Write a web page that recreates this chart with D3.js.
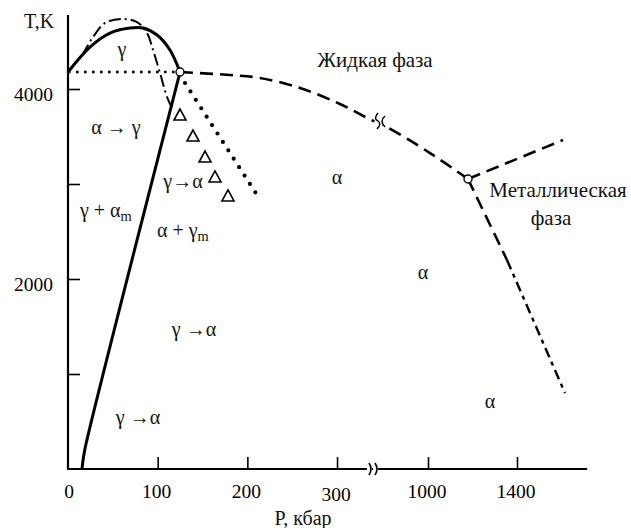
<!DOCTYPE html>
<html>
<head>
<meta charset="utf-8">
<script src="https://cdn.jsdelivr.net/npm/d3@7"></script>
<style>
  body { margin: 0; background: #fff; }
  svg text { font-family: "Liberation Serif", "Times New Roman", "DejaVu Serif", serif; }
</style>
</head>
<body>
<div id="chart"></div>
<script>
// axis ticks
const xTicks = [100, 200, 300, 1000, 1400];
const xTickLabels = [0, 100, 200, 300, 1000, 1400];
const yTicks = [1000, 2000, 3000, 4000];
const yTickLabels = [2000, 4000];

// phase lines, [P kbar, T K]
const graphiteDiamond = [[15.6, 0], [17.2, 120], [20, 260], [125, 4180]];
const graphiteMelt = [[0, 4179], [24.5, 4442], [46.8, 4589], [69.1, 4642], [83.6, 4642], [99.3, 4568], [113.7, 4411], [124.9, 4179]];
const dashDotMelt = [[0, 4179], [15.6, 4358], [27.9, 4547], [41.3, 4695], [60.2, 4737], [76.9, 4705], [88.1, 4589], [94.8, 4411], [102.6, 4168], [110.4, 3916], [116, 3800]];
const dottedLevel = [[0, 4179], [124, 4179]];
const heavyDots = [[130.5, 4063], [210.8, 2884]];
const diamondMelt = [[124.9, 4179], [180.7, 4147], [214.1, 4116], [258.7, 4011], [303.3, 3842], [338.2, 3674], [806.7, 3611], [1009, 3326], [1179.8, 3053]];
const metalUp = [[1179.8, 3053], [1606.7, 3463]];
const metalDownA = [[1179.8, 3053], [1355, 2200]];
const metalDownB = [[1355, 2200], [1615.7, 800]];
const triplePoints = [[124.9, 4179], [1179.8, 3053]];
const triangles = [[124.9, 3726], [139.4, 3505], [152.8, 3284], [163.9, 3074], [178.4, 2874]];

const svg_width = 631, svg_height = 528;
const serif = '"Liberation Serif", "Times New Roman", "DejaVu Serif", serif';

const svg = d3.select('#chart').append('svg')
  .attr('width', svg_width).attr('height', svg_height);

// broken pressure axis: 0..340 then 760..
const x = d3.scaleLinear().domain([0, 340, 760, 1800]).range([68, 372.9, 374.6, 606]);
const y = d3.scaleLinear().domain([0, 5000]).range([469, -6]);

const line = d3.line().x(d => x(d[0])).y(d => y(d[1]));
const curve = d3.line().x(d => x(d[0])).y(d => y(d[1])).curve(d3.curveCatmullRom.alpha(0.5));

//axes
svg.append('line').attr('x1', x(0)).attr('x2', x(0)).attr('y1', y(0)).attr('y2', y(4779))
  .attr('stroke', '#000').attr('stroke-width', 2.2);
svg.append('line').attr('x1', x(0) - 1).attr('x2', x(1715)).attr('y1', y(0)).attr('y2', y(0))
  .attr('stroke', '#000').attr('stroke-width', 2.2);

const xAxis = d3.axisBottom(x).tickValues(xTicks).tickSizeInner(-12).tickSizeOuter(0).tickFormat('');
svg.append('g').attr('transform', `translate(0,${y(0)})`).call(xAxis)
  .call(g => g.select('.domain').remove())
  .call(g => g.selectAll('line').attr('stroke-width', 1.6));

const yAxis = d3.axisLeft(y).tickValues(yTicks).tickSizeInner(-12).tickSizeOuter(0).tickFormat('');
svg.append('g').attr('transform', `translate(${x(0)},0)`).call(yAxis)
  .call(g => g.select('.domain').remove())
  .call(g => g.selectAll('line').attr('stroke-width', 1.6));

svg.selectAll('.xlab').data(xTickLabels).join('text')
  .attr('class', 'xlab')
  .attr('x', d => x(d) + (d == 0 ? 1 : -1))
  .attr('y', d => d == 300 ? 501 : 498)
  .attr('font-family', serif)
  .attr('text-anchor', 'middle').attr('font-size', 19.5).text(d => d);

svg.selectAll('.ylab').data(yTickLabels).join('text')
  .attr('class', 'ylab')
  .attr('x', 53).attr('y', d => y(d) + 12)
  .attr('font-family', serif)
  .attr('text-anchor', 'end').attr('font-size', 19.5).text(d => d);

// axis break marks
[0, 6].forEach(dx => {
  const bx = 369 + dx;
  svg.append('rect').attr('x', bx - 2).attr('y', y(0) - 3).attr('width', 5).attr('height', 6).attr('fill', '#fff');
  svg.append('path').attr('d', `M${bx},${y(0) - 6} Q${bx + 4},${y(0)} ${bx},${y(0) + 6}`)
    .attr('fill', 'none').attr('stroke', '#000').attr('stroke-width', 1.6);
});

// phase lines
svg.append('path').attr('d', line(dottedLevel)).attr('fill', 'none')
  .attr('stroke', '#000').attr('stroke-width', 2.6).attr('stroke-dasharray', '2.6,5.4');
svg.append('path').attr('d', curve(dashDotMelt)).attr('fill', 'none')
  .attr('stroke', '#000').attr('stroke-width', 2).attr('stroke-dasharray', '12,4,2,4');
svg.append('path').attr('d', curve(graphiteMelt)).attr('fill', 'none')
  .attr('stroke', '#000').attr('stroke-width', 3);
svg.append('path').attr('d', curve(graphiteDiamond)).attr('fill', 'none')
  .attr('stroke', '#000').attr('stroke-width', 3);
svg.append('path').attr('d', line(heavyDots)).attr('fill', 'none')
  .attr('stroke', '#000').attr('stroke-width', 4.2).attr('stroke-linecap', 'round')
  .attr('stroke-dasharray', '0,10');
svg.append('path').attr('d', curve(diamondMelt)).attr('fill', 'none')
  .attr('stroke', '#000').attr('stroke-width', 2.6).attr('stroke-dasharray', '13,7');
svg.append('path').attr('d', line(metalUp)).attr('fill', 'none')
  .attr('stroke', '#000').attr('stroke-width', 2.6).attr('stroke-dasharray', '13,7');
svg.append('path').attr('d', line(metalDownA)).attr('fill', 'none')
  .attr('stroke', '#000').attr('stroke-width', 2.6).attr('stroke-dasharray', '13,7');
svg.append('path').attr('d', line(metalDownB)).attr('fill', 'none')
  .attr('stroke', '#000').attr('stroke-width', 2.4).attr('stroke-dasharray', '10,5,4,5');

// break on the liquid line
svg.append('rect').attr('x', 375).attr('y', 116).attr('width', 9).attr('height', 10)
  .attr('fill', '#fff').attr('transform', 'rotate(25,379,121)');
svg.append('path').attr('d', 'M378,113 Q373,119 378,121 Q382,124 377,129')
  .attr('fill', 'none').attr('stroke', '#000').attr('stroke-width', 1.5);
svg.append('path').attr('d', 'M385,116 Q379,121 385,127')
  .attr('fill', 'none').attr('stroke', '#000').attr('stroke-width', 1.5);

// triangles
svg.selectAll('.tri').data(triangles).join('path')
  .attr('class', 'tri')
  .attr('d', d => {
    const cx = x(d[0]), cy = y(d[1]);
    return `M${cx},${cy - 6}L${cx + 6},${cy + 5}L${cx - 6},${cy + 5}Z`;
  })
  .attr('fill', '#fff').attr('stroke', '#000').attr('stroke-width', 1.6);

// triple points
svg.selectAll('.tp').data(triplePoints).join('circle')
  .attr('class', 'tp')
  .attr('cx', d => x(d[0])).attr('cy', d => y(d[1])).attr('r', 4)
  .attr('fill', '#fff').attr('stroke', '#000').attr('stroke-width', 1.4);

// texts
function label(txt, px, py, size, anchor, sub) {
  const t = svg.append('text').attr('x', px).attr('y', py)
    .attr('font-family', serif)
    .attr('font-size', size).attr('text-anchor', anchor || 'middle').attr('fill', '#111');
  t.append('tspan').text(txt);
  if (sub) t.append('tspan').text(sub).attr('font-size', size * 0.72).attr('dy', 4);
  return t;
}
label('T,K', 24, 28, 20, 'start');
label('P, кбар', 303, 525, 20);
label('Жидкая фаза', 375, 67, 21);
label('Металлическая', 558, 197, 21);
label('фаза', 551, 225, 21);
label('γ', 122, 56, 20);
label('α → γ', 116, 134, 20);
label('γ→α', 183, 188, 20);
label('γ + α', 80, 217, 20, 'start', 'm');
label('α  + γ', 157, 237, 20, 'start', 'm');
label('γ →α', 194, 336, 20);
label('γ →α', 138, 424, 20);
label('α', 337, 184, 20);
label('α', 423, 279, 20);
label('α', 490, 408, 20);
</script>
</body>
</html>
